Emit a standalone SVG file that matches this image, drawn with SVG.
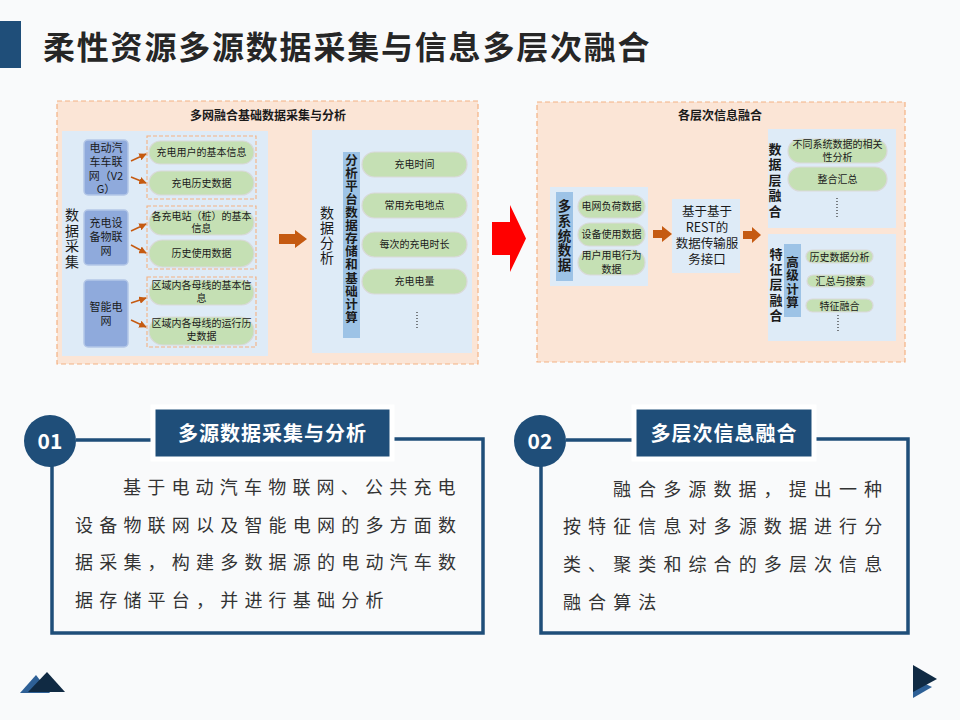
<svg xmlns="http://www.w3.org/2000/svg" width="960" height="720" viewBox="0 0 960 720">
<style>
text{font-family:"Noto Sans CJK SC","Noto Sans",sans-serif;fill:#1a1a1a}
.panel{fill:#FBE5D6;stroke:#F4B183;stroke-width:1.2;stroke-dasharray:5 3}
.inner{fill:#DEEBF7}
.bbox{fill:#8FAADC;stroke:#B4C7E7;stroke-width:1.5}
.grp{fill:none;stroke:#F4B183;stroke-width:1.1;stroke-dasharray:4 2}
.pill{fill:#C5E0B4;stroke:#D9D9D9;stroke-width:1.2}
.bar{fill:#9DC3E6}
.t10{font-size:10px;text-anchor:middle}
.t11{font-size:11px;text-anchor:middle}
.t12{font-size:12.5px;text-anchor:middle}
.ptitle{font-size:12px;font-weight:bold;text-anchor:middle}
.vert{writing-mode:vertical-rl;text-orientation:upright}
.vt{font-size:14px}
.vb{font-size:13px;font-weight:bold}
.blk{fill:#C55A11}
.dots{stroke:#333;stroke-width:1.2;stroke-dasharray:1 2}
.conn{stroke:#C55A11;stroke-width:1.5;fill:none;marker-end:url(#ah)}
.card{fill:none;stroke:#1F4E79;stroke-width:3.5}
.circ{fill:#1F4E79}
.lab{fill:#1F4E79;stroke:#ffffff;stroke-width:5}
.labt{font-size:20px;font-weight:bold;fill:#ffffff;text-anchor:middle;letter-spacing:1px}
.num{font-size:21px;font-weight:bold;fill:#ffffff;text-anchor:middle}
.body{font-family:"Noto Sans CJK SC",serif;font-size:18px;fill:#333}
</style>
<defs>
<marker id="ah" viewBox="0 0 10 10" refX="9" refY="5" markerWidth="5" markerHeight="5" orient="auto"><path d="M0,0 L10,5 L0,10 z" fill="#C55A11"/></marker>
</defs>
<rect x="0" y="0" width="960" height="720" fill="#F9FAFB"/>

<g id="title">
<rect x="0" y="21" width="21" height="47" fill="#1F4E79"/>
<text x="43" y="59" style="font-size:32px;font-weight:bold;letter-spacing:1.8px;fill:#262626">柔性资源多源数据采集与信息多层次融合</text>
</g>

<g id="panel-left">
<rect class="panel" x="57" y="101" width="421" height="263"/>
<text class="ptitle" x="268" y="120">多网融合基础数据采集与分析</text>
<rect class="inner" x="62" y="131" width="206" height="225"/>
<rect class="inner" x="312" y="130" width="160" height="223"/>
</g>

<g id="collect-label">
<text class="vert vt" x="72" y="208" style="letter-spacing:1.5px">数据采集</text>
</g>

<g id="v2g">
<rect class="bbox" x="84" y="140" width="44" height="55" rx="4"/>
<text class="t11"><tspan x="106" y="152">电动汽</tspan><tspan x="106" y="166">车车联</tspan><tspan x="106" y="179.5">网（V2</tspan><tspan x="106" y="193">G）</tspan></text>
</g>
<g id="charger-iot">
<rect class="bbox" x="84" y="210" width="44" height="55" rx="4"/>
<text class="t11"><tspan x="106" y="227">充电设</tspan><tspan x="106" y="241">备物联</tspan><tspan x="106" y="255">网</tspan></text>
</g>
<g id="smart-grid">
<rect class="bbox" x="84" y="280" width="44" height="67" rx="4"/>
<text class="t11"><tspan x="106" y="311">智能电</tspan><tspan x="106" y="324.5">网</tspan></text>
</g>

<g id="grp1">
<rect class="grp" x="147" y="136" width="109" height="63"/>
<rect class="pill" x="149" y="141" width="105" height="23" rx="11.5"/>
<text class="t10" x="201.5" y="156">充电用户的基本信息</text>
<rect class="pill" x="149" y="171" width="105" height="24" rx="12"/>
<text class="t10" x="201.5" y="187">充电历史数据</text>
</g>
<g id="grp2">
<rect class="grp" x="147" y="206" width="109" height="63"/>
<rect class="pill" x="149" y="210" width="105" height="25" rx="12.5"/>
<text class="t10"><tspan x="201.5" y="220">各充电站（桩）的基本</tspan><tspan x="201.5" y="232">信息</tspan></text>
<rect class="pill" x="149" y="240" width="105" height="27" rx="13.5"/>
<text class="t10" x="201.5" y="257">历史使用数据</text>
</g>
<g id="grp3">
<rect class="grp" x="147" y="277" width="109" height="70"/>
<rect class="pill" x="149" y="280" width="105" height="25" rx="12.5"/>
<text class="t10"><tspan x="201.5" y="289">区域内各母线的基本信</tspan><tspan x="201.5" y="302">息</tspan></text>
<rect class="pill" x="149" y="317" width="105" height="28" rx="14"/>
<text class="t10"><tspan x="201.5" y="327">区域内各母线的运行历</tspan><tspan x="201.5" y="340">史数据</tspan></text>
</g>

<g id="analysis">
<text class="vert vt" x="327" y="206" style="letter-spacing:1px">数据分析</text>
<rect class="bar" x="343" y="152" width="17" height="186"/>
<text class="vert vb" x="351.5" y="153.7" style="font-size:12.5px;letter-spacing:0.6px">分析平台数据存储和基础计算</text>
<rect class="pill" x="362" y="152" width="105" height="25" rx="12.5"/>
<text class="t10" x="414.5" y="168">充电时间</text>
<rect class="pill" x="362" y="193" width="105" height="25" rx="12.5"/>
<text class="t10" x="414.5" y="209">常用充电地点</text>
<rect class="pill" x="362" y="232" width="105" height="25" rx="12.5"/>
<text class="t10" x="414.5" y="248">每次的充电时长</text>
<rect class="pill" x="362" y="269" width="105" height="25" rx="12.5"/>
<text class="t10" x="414.5" y="285">充电电量</text>
<line class="dots" x1="417" y1="312" x2="417" y2="330"/>
</g>

<g id="panel-right">
<rect class="panel" x="537" y="102" width="368" height="260"/>
<text class="ptitle" x="720" y="120">各层次信息融合</text>
</g>

<g id="multi-source">
<rect class="inner" x="550" y="187" width="98" height="99"/>
<rect class="bar" x="556" y="192" width="17" height="89"/>
<text class="vert vb" x="564.5" y="199.3" style="font-size:13.5px;letter-spacing:1.25px">多系统数据</text>
<rect class="pill" x="578" y="195" width="67" height="23" rx="11.5"/>
<text class="t10" x="611.5" y="210">电网负荷数据</text>
<rect class="pill" x="578" y="223" width="67" height="23" rx="11.5"/>
<text class="t10" x="611.5" y="238">设备使用数据</text>
<rect class="pill" x="578" y="250" width="67" height="25" rx="12.5"/>
<text class="t10"><tspan x="611.5" y="259">用户用电行为</tspan><tspan x="611.5" y="273">数据</tspan></text>
</g>

<g id="rest">
<rect class="inner" x="672" y="199" width="68" height="74"/>
<text class="t12"><tspan x="707" y="215.5">基于基于</tspan><tspan x="707" y="231.5">REST的</tspan><tspan x="707" y="247.5">数据传输服</tspan><tspan x="707" y="263.5">务接口</tspan></text>
</g>

<g id="data-layer">
<rect class="inner" x="768" y="129" width="128" height="99"/>
<text class="vert vb" x="775" y="142.5" style="letter-spacing:2.5px">数据层融合</text>
<rect class="pill" x="788" y="139" width="99" height="24" rx="12"/>
<text class="t10"><tspan x="837.5" y="148">不同系统数据的相关</tspan><tspan x="837.5" y="161">性分析</tspan></text>
<rect class="pill" x="788" y="167" width="99" height="24" rx="12"/>
<text class="t10" x="837.5" y="183">整合汇总</text>
<line class="dots" x1="837" y1="198" x2="837" y2="219"/>
</g>

<g id="feature-layer">
<rect class="inner" x="768" y="234" width="128" height="107"/>
<text class="vert vb" x="776" y="247.5" style="letter-spacing:2.25px">特征层融合</text>
<rect class="bar" x="784" y="244" width="17" height="73"/>
<text class="vert vb" x="792.5" y="255.7" style="font-size:12.5px;letter-spacing:1px">高级计算</text>
<rect class="pill" x="806" y="250" width="67" height="13" rx="6.5"/>
<text class="t10" x="839.5" y="260.5">历史数据分析</text>
<rect class="pill" x="807" y="275" width="67" height="12" rx="6"/>
<text class="t10" x="840.5" y="285">汇总与搜索</text>
<rect class="pill" x="806" y="299" width="67" height="13" rx="6.5"/>
<text class="t10" x="839.5" y="309.5">特征融合</text>
<line class="dots" x1="838" y1="315" x2="838" y2="332"/>
</g>

<g id="connectors">
<line class="conn" x1="131" y1="161" x2="146" y2="154"/>
<line class="conn" x1="131" y1="177" x2="146" y2="183"/>
<line class="conn" x1="131" y1="231" x2="146" y2="224"/>
<line class="conn" x1="131" y1="245" x2="146" y2="253"/>
<line class="conn" x1="131" y1="303" x2="146" y2="298"/>
<line class="conn" x1="131" y1="320" x2="146" y2="327"/>
<polygon class="blk" points="279,234 295,234 295,230 307,239 295,248 295,244 279,244"/>
<polygon points="492,222 510,222 510,205 526,238.5 510,272 510,255 492,255" fill="#FF0000"/>
<polygon class="blk" points="653,230 662,230 662,226 672,234 662,242 662,238 653,238"/>
<polygon class="blk" points="743,231 752,231 752,227 761,235 752,243 752,239 743,239"/>
</g>

<g id="card1">
<path class="card" d="M76,440 H152 M393,439 H483 V633 H52 V466"/>
<circle class="circ" cx="50" cy="441" r="26"/>
<text class="num" x="50" y="449">01</text>
<rect class="lab" x="153" y="407" width="239" height="52"/>
<text class="labt" x="272.5" y="441">多源数据采集与分析</text>
<text class="body" style="letter-spacing:6.2px"><tspan x="123" y="494">基于电动汽车物联网、公共充电</tspan><tspan x="75" y="532">设备物联网以及智能电网的多方面数</tspan><tspan x="75" y="569">据采集，构建多数据源的电动汽车数</tspan><tspan x="75" y="607">据存储平台，并进行基础分析</tspan></text>
</g>

<g id="card2">
<path class="card" d="M566,440 H632 M815,439 H908 V633 H541 V466"/>
<circle class="circ" cx="540" cy="441" r="26"/>
<text class="num" x="540" y="449">02</text>
<rect class="lab" x="634" y="407" width="180" height="52"/>
<text class="labt" x="724" y="441">多层次信息融合</text>
<text class="body" style="letter-spacing:7.1px"><tspan x="613" y="496">融合多源数据，提出一种</tspan><tspan x="563" y="533">按特征信息对多源数据进行分</tspan><tspan x="563" y="571">类、聚类和综合的多层次信息</tspan><tspan x="563" y="609">融合算法</tspan></text>
</g>

<g id="decor">
<polygon points="20,693 36,675 50,693" fill="#2E6096"/>
<polygon points="28,692 47,672 65,692" fill="#102A43"/>
<polygon points="913,678 932,687 913,698" fill="#2E6096"/>
<polygon points="913,665 937,679 913,692" fill="#102A43"/>
</g>
</svg>
